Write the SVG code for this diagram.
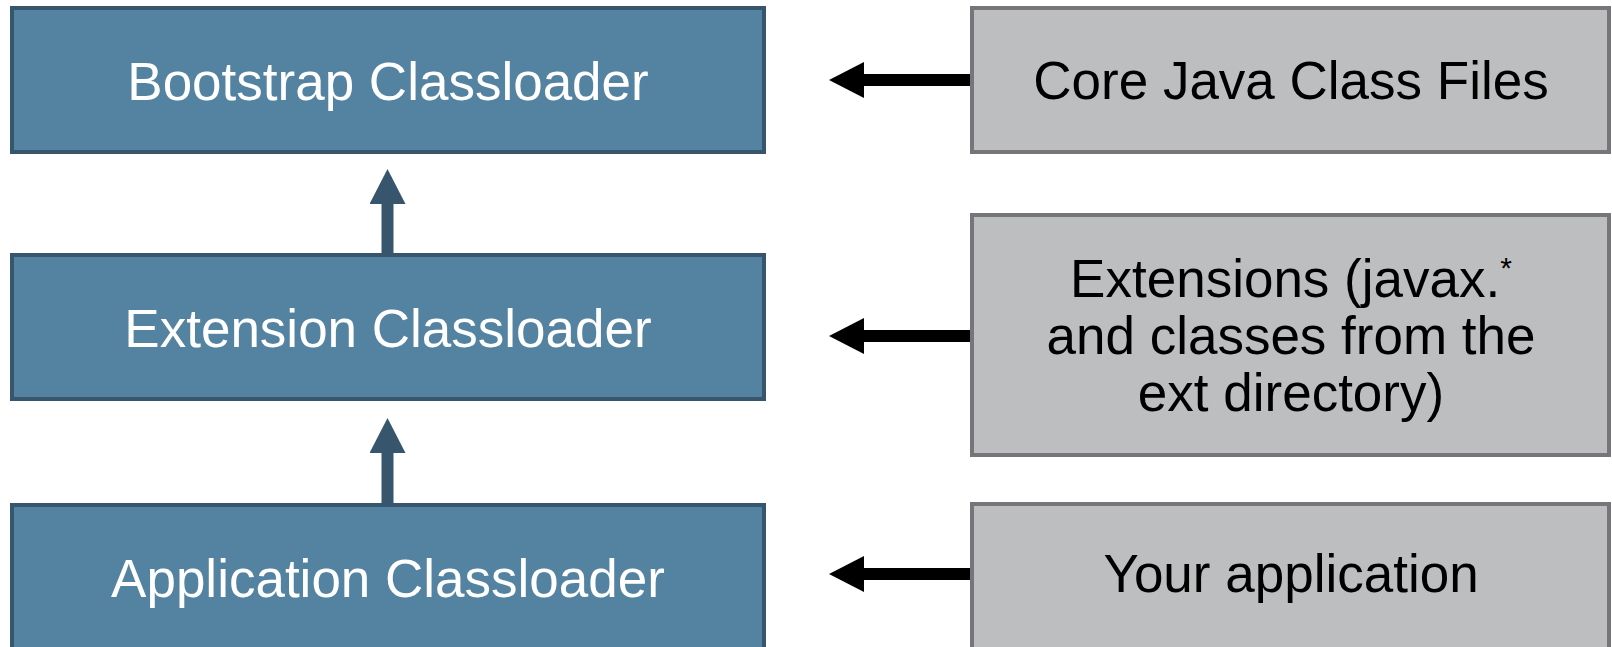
<svg xmlns="http://www.w3.org/2000/svg" width="1612" height="647" viewBox="0 0 1612 647">
  <style>
    .loader { fill: #5483a2; stroke: #37566d; stroke-width: 4; }
    .source { fill: #bdbec0; stroke: #76767a; stroke-width: 4; }
    .label { font-family: "Liberation Sans", Arial, sans-serif; font-size: 53px; text-anchor: middle; }
    .light { fill: #ffffff; }
    .dark { fill: #000000; }
    .up { stroke: #37566d; stroke-width: 12; fill: none; }
    .feed { stroke: #000000; stroke-width: 12; fill: none; }
  </style>
  <defs>
    <marker id="head-blue" viewBox="0 0 35 36" refX="1" refY="18" markerWidth="35" markerHeight="36" markerUnits="userSpaceOnUse" orient="auto">
      <path d="M0,0 L35,18 L0,36 z" fill="#37566d"/>
    </marker>
    <marker id="head-black" viewBox="0 0 35 36" refX="1" refY="18" markerWidth="35" markerHeight="36" markerUnits="userSpaceOnUse" orient="auto">
      <path d="M0,0 L35,18 L0,36 z" fill="#000000"/>
    </marker>
  </defs>

  <rect width="1612" height="647" fill="#ffffff"/>

  <!-- class loader hierarchy -->
  <g id="bootstrap-classloader">
    <rect class="loader" x="12" y="8" width="752" height="144"/>
    <text class="label light" x="388" y="100">Bootstrap Classloader</text>
  </g>
  <g id="extension-classloader">
    <rect class="loader" x="12" y="255" width="752" height="144"/>
    <text class="label light" x="388" y="347">Extension Classloader</text>
  </g>
  <g id="application-classloader">
    <rect class="loader" x="12" y="505" width="752" height="144"/>
    <text class="label light" x="388" y="597">Application Classloader</text>
  </g>

  <!-- class sources -->
  <g id="core-java-class-files">
    <rect class="source" x="972" y="8" width="637" height="144"/>
    <text class="label dark" x="1291" y="99">Core Java Class Files</text>
  </g>
  <g id="extensions">
    <rect class="source" x="972" y="215" width="637" height="240"/>
    <text class="label dark" x="1291" y="297">Extensions (javax.<tspan font-size="30" dy="-19">*</tspan></text>
    <text class="label dark" x="1291" y="354">and classes from the</text>
    <text class="label dark" x="1291" y="411">ext directory)</text>
  </g>
  <g id="your-application">
    <rect class="source" x="972" y="504" width="637" height="147"/>
    <text class="label dark" x="1291" y="592">Your application</text>
  </g>

  <!-- connectors -->
  <g id="connectors">
    <path class="up" d="M387.5,253 L387.5,203" marker-end="url(#head-blue)"/>
    <path class="up" d="M387.5,503 L387.5,452" marker-end="url(#head-blue)"/>
    <path class="feed" d="M970,80 L863,80" marker-end="url(#head-black)"/>
    <path class="feed" d="M970,336 L863,336" marker-end="url(#head-black)"/>
    <path class="feed" d="M970,574 L863,574" marker-end="url(#head-black)"/>
  </g>
</svg>
